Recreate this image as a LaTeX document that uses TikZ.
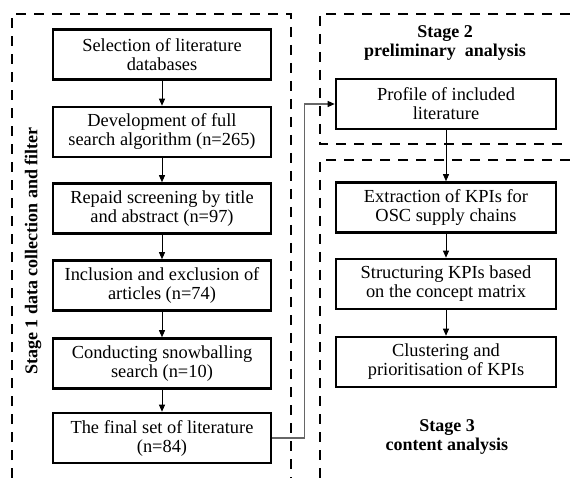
\documentclass[tikz,border=0pt]{standalone}
\usepackage{fontspec}
\setmainfont{Liberation Serif}
\usetikzlibrary{arrows.meta}
\begin{document}
\begin{tikzpicture}[x=1pt,y=-1pt,
  stepbox/.style={draw, line width=2.6pt, minimum width=218pt, minimum height=50pt,
    inner sep=0pt, align=center, font=\fontsize{18.4}{19}\selectfont},
  frame/.style={line width=2.6pt, dash pattern=on 10pt off 8pt},
  arr/.style={line width=0.9pt, -{Triangle[length=7pt,width=6pt]}},
  conn/.style={line width=1.1pt, draw=black!60, -{Triangle[length=7pt,width=6pt,color=black]}},
  title/.style={align=center, font=\fontsize{18}{19}\selectfont\bfseries}]
\useasboundingbox (0,0) rectangle (570,478);
% frames
\draw[frame] (12,478) -- (12,14) -- (291,14) -- (291,478);
\draw[frame] (570,14) -- (320,14) -- (320,144) -- (570,144);
\draw[frame] (570,160) -- (320,160) -- (320,478);
% stage 1 boxes
\node[stepbox] (b1) at (162,54.5) {Selection of literature\\databases};
\node[stepbox] (b2) at (162,132) {Development of full\\search algorithm (n=265)};
\node[stepbox] (b3) at (162,208.5) {Repaid screening by title\\and abstract (n=97)};
\node[stepbox] (b4) at (162,285.5) {Inclusion and exclusion of\\articles (n=74)};
\node[stepbox] (b5) at (162,363.5) {Conducting snowballing\\search (n=10)};
\node[stepbox] (b6) at (162,438) {The final set of literature\\(n=84)};
% stage 2/3 boxes
\node[stepbox, minimum width=220pt] (p) at (446,104) {Profile of included\\literature};
\node[stepbox, minimum width=220pt] (e) at (446,207.5) {Extraction of KPIs for\\OSC supply chains};
\node[stepbox, minimum width=220pt] (s) at (446,284) {Structuring KPIs based\\on the concept matrix};
\node[stepbox, minimum width=220pt] (c) at (446,362) {Clustering and\\prioritisation of KPIs};
% titles
\node[title] (t1) at (33,251) [rotate=90] {Stage 1 data collection and filter};
\node[title] (t2) at (445,43) {Stage 2\\preliminary~ analysis};
\node[title] (t3) at (447,437) {Stage 3\\content analysis};
% arrows
\draw[arr] (b1) -- (b2);
\draw[arr] (b2) -- (b3);
\draw[arr] (b3) -- (b4);
\draw[arr] (b4) -- (b5);
\draw[arr] (b5) -- (b6);
\draw[arr] (p) -- (e);
\draw[arr] (e) -- (s);
\draw[arr] (s) -- (c);
\draw[conn] (b6.east) -- ++(32,0) |- (p.west);
\end{tikzpicture}
\end{document}
